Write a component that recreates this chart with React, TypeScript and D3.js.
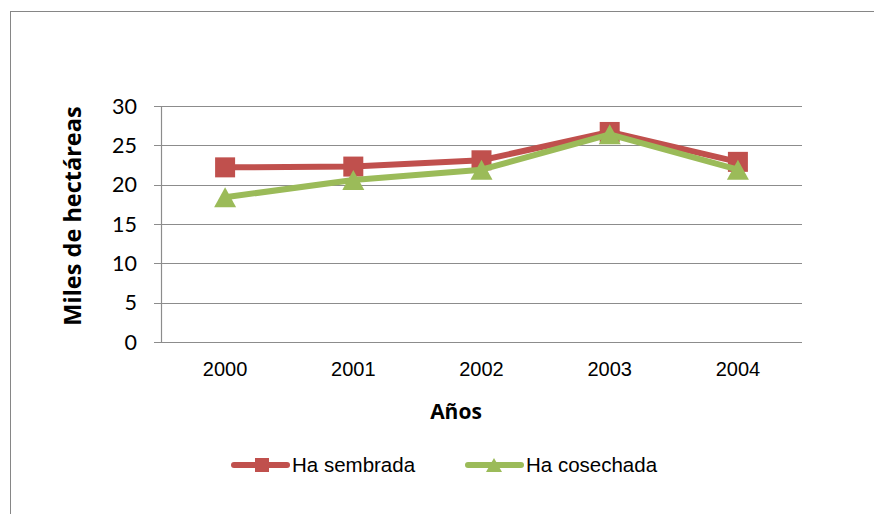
import React from "react";
import * as d3 from "d3";

const categories = ["2000", "2001", "2002", "2003", "2004"];
const sembrada = [22.2, 22.3, 23.1, 26.7, 22.9];
const cosechada = [18.4, 20.6, 21.9, 26.4, 21.9];
const yTicks = [0, 5, 10, 15, 20, 25, 30];
const seriesNames = ["Ha sembrada", "Ha cosechada"];

const W = 874;
const H = 514;
const RED = "#C0504D";
const GREEN = "#9BBB59";
const GRID = "#8c8c8c";

export default function App() {
  const left = 161, right = 802, top = 106, bottom = 342;
  const x = d3.scaleBand<string>().domain(categories).range([left, right]);
  const y = d3.scaleLinear().domain([0, 30]).range([bottom, top]);
  const cx = (c: string) => (x(c) as number) + x.bandwidth() / 2;
  const line = d3
    .line<number>()
    .x((_, i) => cx(categories[i]))
    .y((d) => y(d));
  const tri = (px: number, py: number, s: number) =>
    `M${px},${py - s / 2}L${px + s / 2 + 1},${py + s / 2}L${px - s / 2 - 1},${py + s / 2}Z`;

  const labelFont = "Lato, 'Open Sans', sans-serif";
  const titleFont = "'Open Sans', Lato, sans-serif";
  const arial = "'Liberation Sans', Arial, sans-serif";

  return (
    <svg
      width={W}
      height={H}
      style={{ position: "absolute", left: 0, top: 0, background: "#fff" }}
    >
      <rect x={10.5} y={11.5} width={W + 20} height={H + 20} fill="#fff" stroke="#868686" strokeWidth={1} />
      {yTicks.map((t) => (
        <g key={t}>
          <line x1={154} x2={right} y1={Math.round(y(t)) + 0.5} y2={Math.round(y(t)) + 0.5} stroke={GRID} strokeWidth={1.2} />
          <text x={137} y={y(t)} dy="0.35em" textAnchor="end" fontFamily={labelFont} fontSize={21.5} fill="#000">
            {t}
          </text>
        </g>
      ))}
      <line x1={left + 0.5} x2={left + 0.5} y1={top} y2={bottom + 0.5} stroke={GRID} strokeWidth={1.2} />
      {categories.map((c) => (
        <text key={c} x={cx(c)} y={376} textAnchor="middle" fontFamily={arial} fontSize={20} fill="#000">
          {c}
        </text>
      ))}
      <text x={456} y={419} textAnchor="middle" fontFamily={titleFont} fontWeight="bold" fontSize={21} fill="#000">
        Años
      </text>
      <text
        transform={`translate(81,216) rotate(-90)`}
        textAnchor="middle"
        fontFamily={titleFont}
        fontWeight="bold"
        fontSize={23.5}
        fill="#000"
      >
        Miles de hectáreas
      </text>
      <path d={line(sembrada) || ""} fill="none" stroke={RED} strokeWidth={6} strokeLinejoin="round" />
      {sembrada.map((v, i) => (
        <rect key={i} x={cx(categories[i]) - 10} y={y(v) - 10} width={20} height={20} fill={RED} />
      ))}
      <path d={line(cosechada) || ""} fill="none" stroke={GREEN} strokeWidth={6} strokeLinejoin="round" />
      {cosechada.map((v, i) => (
        <path key={i} d={tri(cx(categories[i]), y(v), 20)} fill={GREEN} />
      ))}
      {/* legend */}
      <g>
        <line x1={234} x2={287} y1={465} y2={465} stroke={RED} strokeWidth={6} strokeLinecap="round" />
        <rect x={255} y={458} width={14} height={14} fill={RED} />
        <text x={292} y={472} fontFamily={arial} fontSize={20.5} fill="#000">
          {seriesNames[0]}
        </text>
        <line x1={468} x2={521} y1={465} y2={465} stroke={GREEN} strokeWidth={6} strokeLinecap="round" />
        <path d={tri(494, 465, 14)} fill={GREEN} />
        <text x={526} y={472} fontFamily={arial} fontSize={20.5} fill="#000">
          {seriesNames[1]}
        </text>
      </g>
    </svg>
  );
}
